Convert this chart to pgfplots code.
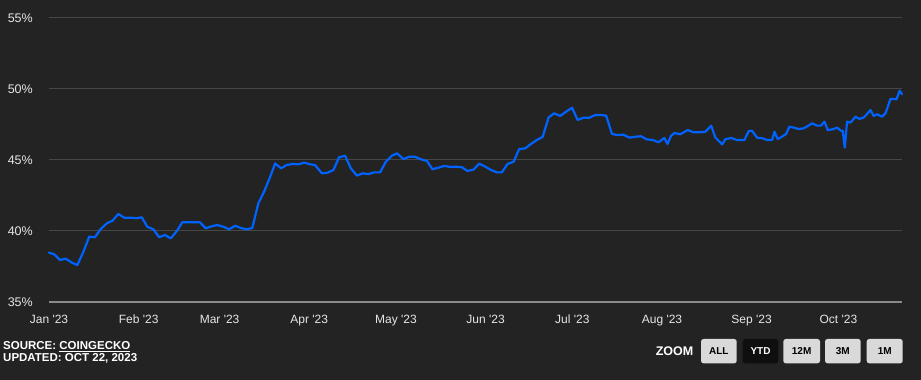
\documentclass[border=0pt]{standalone}
\usepackage{fontspec}
\setmainfont{Liberation Sans}
\usepackage{pgfplots}
\pgfplotsset{compat=1.18}
\definecolor{bg}{HTML}{232323}
\definecolor{gridc}{HTML}{474747}
\definecolor{basec}{HTML}{8A8A8A}
\definecolor{lineblue}{HTML}{0062FF}
\definecolor{labc}{HTML}{E6E6E6}
\definecolor{btn}{HTML}{D9D9D9}
\definecolor{btnsel}{HTML}{0F0F0F}
\begin{document}
\begin{tikzpicture}
\path[use as bounding box] (0pt,0pt) rectangle (921pt,380pt);
\fill[bg] (0pt,0pt) rectangle (921pt,380pt);
\begin{axis}[
  at={(49pt,78pt)}, anchor=south west,
  scale only axis, width=853pt, height=284pt,
  xmin=0, xmax=295, ymin=35, ymax=55,
  enlargelimits=false,
  axis line style={draw=none},
  major tick length=0pt,
  ytick={40,45,50,55},
  yticklabels={40\%,45\%,50\%,55\%},
  extra y ticks={35}, extra y tick labels={35\%},
  extra y tick style={grid=major, major grid style={draw=basec, line width=1.2pt}},
  ymajorgrids, major grid style={draw=gridc, line width=1pt},
  xtick={0,31,59,90,120,151,181,212,243,273},
  xticklabels={Jan \textquotesingle23,Feb \textquotesingle23,Mar \textquotesingle23,Apr \textquotesingle23,May \textquotesingle23,Jun \textquotesingle23,Jul \textquotesingle23,Aug \textquotesingle23,Sep \textquotesingle23,Oct \textquotesingle23},
  yticklabel style={anchor=east, inner sep=0pt, xshift=-16pt, text=labc, font=\fontsize{12.5}{14}\selectfont},
  xticklabel style={anchor=base, inner sep=0pt, yshift=-21.5pt, text=labc, font=\fontsize{12}{14}\selectfont},
  clip=false,
]
\addplot[lineblue, line width=2.2pt, line join=round, line cap=round] coordinates {
(0.0,38.47) (1.8,38.36) (3.8,37.96) (5.8,38.05) (7.9,37.77) (9.8,37.60) (11.9,38.54) (13.9,39.60) (15.9,39.56) (17.9,40.14)
(20.0,40.54) (22.0,40.73) (24.0,41.20) (26.0,40.94) (28.0,40.94) (30.1,40.90) (32.1,40.96) (34.0,40.30) (36.1,40.12) (38.1,39.56)
(40.1,39.72) (42.1,39.48) (44.2,40.00) (46.1,40.61) (48.2,40.61) (50.2,40.61) (52.2,40.61) (54.2,40.19) (56.3,40.33) (58.2,40.42)
(60.3,40.30) (62.3,40.12) (64.4,40.37) (66.3,40.21) (68.4,40.12) (70.3,40.21) (72.4,41.95) (74.4,42.77) (76.5,43.82) (78.2,44.76)
(80.3,44.41) (82.2,44.65) (84.3,44.72) (86.3,44.69) (88.2,44.81) (90.3,44.70) (92.0,44.64) (94.4,44.06) (96.3,44.10) (98.4,44.30)
(100.3,45.19) (102.4,45.30) (104.4,44.41) (106.5,43.90) (108.5,44.06) (110.5,44.01) (112.5,44.13) (114.5,44.13) (116.5,44.88) (118.6,45.30)
(120.3,45.47) (122.6,45.07) (124.6,45.23) (126.6,45.23) (128.6,45.05) (130.7,44.93) (132.6,44.35) (134.7,44.46) (136.7,44.58) (138.8,44.51)
(140.7,44.53) (142.8,44.49) (144.7,44.23) (146.8,44.32) (148.8,44.74) (150.9,44.53) (152.8,44.30) (154.9,44.13) (156.6,44.13) (158.6,44.72)
(160.7,44.88) (162.6,45.77) (164.7,45.82) (166.7,46.13) (168.7,46.41) (170.7,46.62) (172.8,48.00) (174.7,48.29) (176.8,48.10) (178.8,48.40)
(180.9,48.68) (182.8,47.82) (184.9,47.98) (186.9,47.98) (188.9,48.17) (190.9,48.17) (192.7,48.12) (194.7,46.83) (196.6,46.76) (198.7,46.78)
(200.8,46.57) (202.8,46.64) (204.7,46.67) (206.8,46.45) (208.8,46.41) (210.8,46.25) (212.8,46.55) (213.9,46.13) (215.1,46.69) (216.3,46.90)
(218.3,46.81) (220.9,47.11) (222.9,46.95) (225.0,46.95) (227.0,46.99) (229.0,47.42) (230.4,46.60) (232.8,46.10) (233.9,46.46) (235.9,46.55)
(237.9,46.41) (240.5,46.41) (242.0,47.04) (243.1,47.06) (244.9,46.57) (246.8,46.53) (248.3,46.41) (250.1,46.41) (250.9,46.99) (252.0,46.48)
(253.5,46.64) (254.9,46.83) (256.1,47.35) (257.5,47.28) (259.3,47.18) (261.0,47.23) (262.4,47.39) (263.9,47.58) (265.6,47.42) (267.0,47.42)
(268.2,47.70) (269.3,47.11) (271.0,47.16) (272.6,47.28) (273.9,47.06) (274.5,47.06) (275.2,45.87) (276.0,47.70) (277.2,47.63) (278.9,48.05)
(280.3,47.89) (281.8,48.00) (282.9,48.24) (284.1,48.52) (285.2,48.10) (286.4,48.22) (288.1,48.05) (289.3,48.29) (291.0,49.30) (293.1,49.28)
(294.2,49.88) (295.0,49.63)
};
\end{axis}
% footer text
\node[anchor=base west, inner sep=0pt, text=white, font=\bfseries\fontsize{11.5}{13}\selectfont] at (3pt,30.8pt) {SOURCE: \underline{COINGECKO}};
\node[anchor=base west, inner sep=0pt, text=white, font=\bfseries\fontsize{11.5}{13}\selectfont] at (3pt,18.5pt) {UPDATED: OCT 22, 2023};
% zoom buttons
\node[anchor=east, inner sep=0pt, text=white, font=\bfseries\fontsize{12.5}{14}\selectfont] at (693.5pt,28.6pt) {ZOOM};
\foreach \xa/\xb/\lab/\sel in {701/736.7/ALL/0, 742.7/778.3/YTD/1, 783.3/820/12M/0, 825/860.7/3M/0, 866.7/902.7/1M/0}{
  \ifnum\sel=1
    \fill[btnsel, rounded corners=2.5pt] (\xa pt,16.7pt) rectangle (\xb pt,41pt);
    \node[text=white, font=\bfseries\fontsize{10}{12}\selectfont, inner sep=0pt] at ({(\xa+\xb)/2*1pt},28.8pt) {\lab};
  \else
    \fill[btn, rounded corners=2.5pt] (\xa pt,16.7pt) rectangle (\xb pt,41pt);
    \node[text=black, font=\bfseries\fontsize{10}{12}\selectfont, inner sep=0pt] at ({(\xa+\xb)/2*1pt},28.8pt) {\lab};
  \fi
}
\end{tikzpicture}
\end{document}
